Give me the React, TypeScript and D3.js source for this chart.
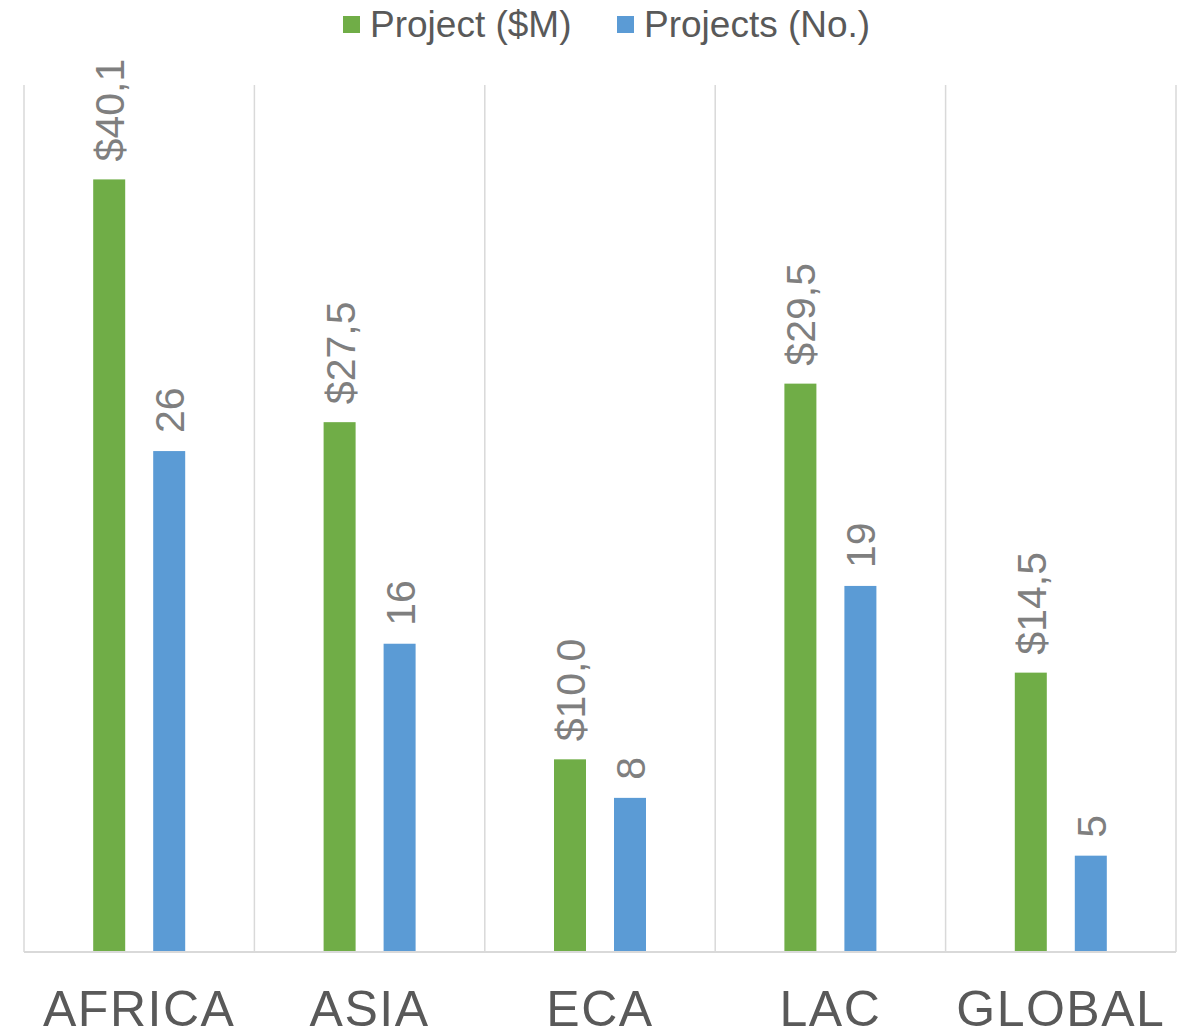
import React from "react";
import * as d3 from "d3";

const categories = ["AFRICA", "ASIA", "ECA", "LAC", "GLOBAL"];
const projectMillions = [40.1, 27.5, 10.0, 29.5, 14.5];
const projectCounts = [26, 16, 8, 19, 5];
const seriesNames = ["Project ($M)", "Projects (No.)"];
const seriesColors = ["#70AD47", "#5B9BD5"];

const W = 1181;
const H = 1031;
const left = 24;
const right = 1176;
const top = 85;
const bottom = 952;

export default function App() {
  const x = d3.scaleBand<string>().domain(categories).range([left, right]).paddingInner(0).paddingOuter(0);
  const y = d3.scaleLinear().domain([0, 45]).range([bottom, top]);
  const inner = d3
    .scaleBand<string>()
    .domain(["0", "1"])
    .range([x.bandwidth() / 2 - 46, x.bandwidth() / 2 + 46])
    .paddingInner(28 / 60)
    .paddingOuter(0);
  const bw = inner.bandwidth();
  const series = [projectMillions, projectCounts];
  const fmt = (v: number, s: number) =>
    s === 0 ? "$" + v.toFixed(1).replace(".", ",") : String(v);
  const font = "'Liberation Sans', Arial, sans-serif";
  const boundaries = categories.map((c) => x(c) as number).concat([right]);

  return (
    <svg
      width={W}
      height={H}
      style={{ position: "absolute", left: 0, top: 0, background: "#fff" }}
      fontFamily={font}
    >
      {boundaries.map((bx, i) => (
        <line key={"g" + i} x1={bx} x2={bx} y1={top} y2={bottom} stroke="#d9d9d9" strokeWidth={1.5} />
      ))}
      {series.map((vals, s) =>
        categories.map((c, i) => {
          const bx = (x(c) as number) + (inner(String(s)) as number);
          const by = y(vals[i]);
          return (
            <g key={`b${s}-${i}`}>
              <rect x={bx} y={by} width={bw} height={bottom - by} fill={seriesColors[s]} />
              <text
                transform={`translate(${bx + bw / 2 + 15},${by - 18}) rotate(-90)`}
                fontSize={41}
                fill="#7f7f7f"
                textAnchor="start"
              >
                {fmt(vals[i], s)}
              </text>
            </g>
          );
        })
      )}
      <line x1={left} x2={right} y1={bottom} y2={bottom} stroke="#d9d9d9" strokeWidth={2} />
      {categories.map((c) => (
        <text
          key={"c" + c}
          x={(x(c) as number) + x.bandwidth() / 2}
          y={1026}
          textAnchor="middle"
          fontSize={50}
          letterSpacing={1.5}
          fill="#595959"
        >
          {c}
        </text>
      ))}
      {seriesNames.map((n, s) => {
        const lx = s === 0 ? 343 : 617;
        return (
          <g key={"l" + s}>
            <rect x={lx} y={16} width={17} height={17} fill={seriesColors[s]} />
            <text x={lx + 27} y={37} fontSize={37} fill="#595959">
              {n}
            </text>
          </g>
        );
      })}
    </svg>
  );
}
